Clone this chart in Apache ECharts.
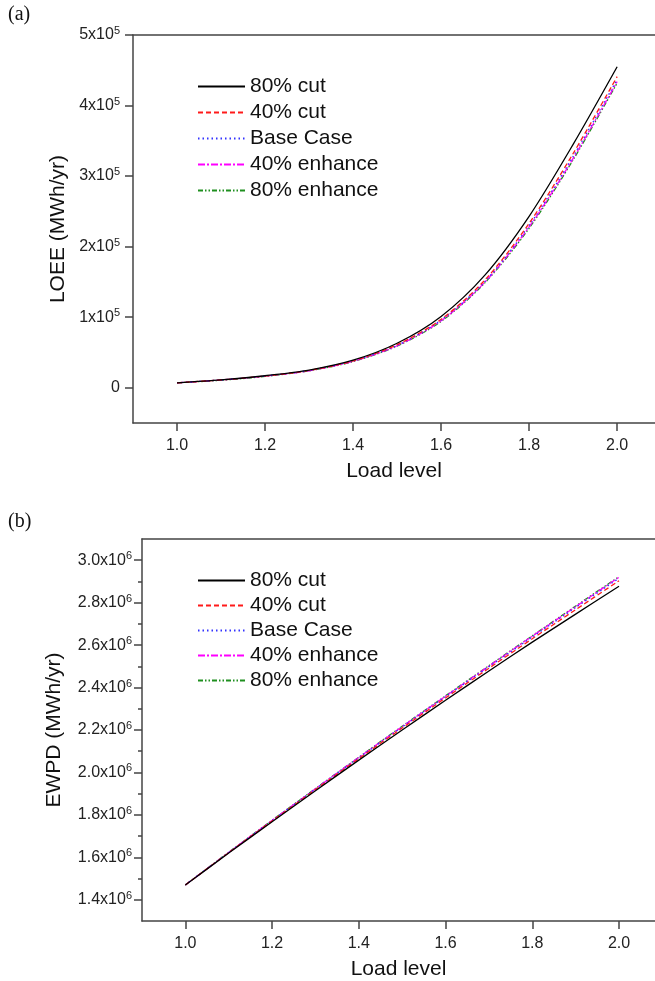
<!DOCTYPE html>
<html>
<head>
<meta charset="utf-8">
<script src="https://cdn.jsdelivr.net/npm/echarts@6/dist/echarts.min.js"></script>
<style>
  html, body { margin: 0; padding: 0; background: #fff; }
  #chart { width: 655px; height: 981px; }
</style>
</head>
<body>
<div id="chart"></div>
<script>
// load level (x)
var loadLevel = [1.0, 1.1, 1.2, 1.3, 1.4, 1.5, 1.6, 1.7, 1.8, 1.9, 2.0];
var seriesNames = ['80% cut', '40% cut', 'Base Case', '40% enhance', '80% enhance'];

// (a) LOEE, MWh/yr
var loeeCut80 = [7000, 11000, 17000, 25000, 39000, 63000, 101000, 160000, 243000, 345000, 455000];
var loeeCut40 = [7000, 11000, 16500, 24500, 38000, 61000, 97000, 153000, 233000, 332000, 441000];
var loeeBase  = [7000, 11000, 16500, 24500, 38000, 60000, 96000, 151000, 230000, 328000, 437000];
var loeeEnh40 = [7000, 11000, 16500, 24000, 37500, 59500, 95000, 150000, 228000, 325000, 434000];
var loeeEnh80 = [7000, 10500, 16000, 24000, 37000, 59000, 94000, 149000, 226000, 323000, 432000];

// (b) EWPD, MWh/yr
var ewpdCut80 = [1470000, 1620000, 1768000, 1914000, 2058000, 2200000, 2340000, 2478000, 2614000, 2746000, 2877000];
var ewpdCut40 = [1470000, 1622000, 1771000, 1919000, 2065000, 2209000, 2351000, 2491000, 2630000, 2767000, 2903000];
var ewpdBase  = [1470000, 1623000, 1773000, 1922000, 2069000, 2214000, 2357000, 2498000, 2638000, 2777000, 2915000];
var ewpdEnh40 = [1470000, 1623000, 1774000, 1923000, 2071000, 2216000, 2359000, 2501000, 2642000, 2781000, 2920000];
var ewpdEnh80 = [1470000, 1624000, 1775000, 1924000, 2072000, 2218000, 2361000, 2503000, 2644000, 2784000, 2923000];

// ticks
var xTicks = [1.0, 1.2, 1.4, 1.6, 1.8, 2.0];
var loeeTicks = [0, 100000, 200000, 300000, 400000, 500000];
var ewpdTicks = [1400000, 1600000, 1800000, 2000000, 2200000, 2400000, 2600000, 2800000, 3000000];
var ewpdMinor = [1500000, 1700000, 1900000, 2100000, 2300000, 2500000, 2700000, 2900000];

var FONT = '"Liberation Sans", Arial, sans-serif';
var AXIS = '#444';
var styles = [
  { color: '#000000', type: 'solid' },
  { color: '#ff1a1a', type: [5, 3] },
  { color: '#3333ff', type: [1.5, 3] },
  { color: '#ff00ff', type: [7, 2, 2, 2] },
  { color: '#1f8f1f', type: [5, 2, 1.5, 2, 1.5, 2] }
];

function pairs(ys) {
  return loadLevel.map(function (x, i) { return [x, ys[i]]; });
}

var supRich = {
  m: { fontSize: 16, color: '#222', fontFamily: FONT, lineHeight: 19 },
  s: { fontSize: 11, color: '#222', fontFamily: FONT, verticalAlign: 'top', lineHeight: 11 }
};

function xAxisMain(grid, max, gap) {
  return {
    type: 'value', gridIndex: grid, min: 0.9, max: max, position: 'bottom',
    name: 'Load level', nameLocation: 'middle', nameGap: gap,
    nameTextStyle: { fontSize: 21, color: '#111', fontFamily: FONT },
    axisLine: { show: true, onZero: false, lineStyle: { color: AXIS, width: 1.5 } },
    axisTick: { show: true, inside: false, length: 8, customValues: xTicks, lineStyle: { color: AXIS, width: 1.5 } },
    axisLabel: { customValues: xTicks, margin: 15, fontSize: 16, color: '#222', fontFamily: FONT,
      formatter: function (v) { return v.toFixed(1); } },
    splitLine: { show: false }
  };
}
function xAxisTop(grid, max) {
  return {
    type: 'value', gridIndex: grid, min: 0.9, max: max, position: 'top',
    axisLine: { show: true, onZero: false, lineStyle: { color: AXIS, width: 1.5 } },
    axisTick: { show: false }, axisLabel: { show: false }, splitLine: { show: false }
  };
}

function lineSeries(ys, i, xi, yi) {
  return {
    name: seriesNames[i], type: 'line', xAxisIndex: xi, yAxisIndex: yi,
    data: pairs(ys), smooth: 0.3, symbol: 'none', z: 10 - i,
    lineStyle: { color: styles[i].color, type: styles[i].type, width: 1.3 },
    itemStyle: { color: styles[i].color }
  };
}

var legendBase = {
  orient: 'vertical', left: 197, padding: 0, itemWidth: 47, itemHeight: 14,
  data: seriesNames, selectedMode: false,
  itemStyle: { opacity: 0 },
  textStyle: { fontSize: 21, color: '#111', fontFamily: FONT }
};

var chart = echarts.init(document.getElementById('chart'), null, { renderer: 'canvas' });
chart.setOption({
  animation: false,
  backgroundColor: '#fff',
  grid: [
    { left: 133, right: 0, top: 35, bottom: 558 },
    { left: 142, right: 0, top: 539, bottom: 55 }
  ],
  graphic: [
    { type: 'text', left: 8, top: 5, style: { text: '(a)', fontSize: 20, fontFamily: '"Liberation Serif", "Times New Roman", serif', fill: '#111' } },
    { type: 'text', left: 8, top: 512, style: { text: '(b)', fontSize: 20, fontFamily: '"Liberation Serif", "Times New Roman", serif', fill: '#111' } }
  ],
  legend: [
    Object.assign({}, legendBase, { top: 76, itemGap: 5 }),
    Object.assign({}, legendBase, { top: 570, itemGap: 4 })
  ],
  xAxis: [
    xAxisMain(0, 2.086, 38),
    xAxisTop(0, 2.086),
    xAxisMain(1, 2.083, 38),
    xAxisTop(1, 2.083)
  ],
  yAxis: [
    {
      type: 'value', gridIndex: 0, min: -50000, max: 500000, position: 'left',
      name: 'LOEE (MWh/yr)', nameLocation: 'middle', nameGap: 64,
      nameTextStyle: { fontSize: 21, color: '#111', fontFamily: FONT },
      axisLine: { show: true, onZero: false, lineStyle: { color: AXIS, width: 1.5 } },
      axisTick: { show: true, length: 8, customValues: loeeTicks, lineStyle: { color: AXIS, width: 1.5 } },
      axisLabel: { customValues: loeeTicks, margin: 13, rich: supRich,
        formatter: function (v) { return v === 0 ? '{m|0}' : '{m|' + Math.round(v / 100000) + 'x10}{s|5}'; } },
      splitLine: { show: false }
    },
    {
      type: 'value', gridIndex: 1, min: 1300000, max: 3100000, position: 'left',
      name: 'EWPD (MWh/yr)', nameLocation: 'middle', nameGap: 77,
      nameTextStyle: { fontSize: 21, color: '#111', fontFamily: FONT },
      axisLine: { show: true, onZero: false, lineStyle: { color: AXIS, width: 1.5 } },
      axisTick: { show: true, length: 8, customValues: ewpdTicks, lineStyle: { color: AXIS, width: 1.5 } },
      axisLabel: { customValues: ewpdTicks, margin: 10, rich: supRich,
        formatter: function (v) { return '{m|' + (v / 1000000).toFixed(1) + 'x10}{s|6}'; } },
      splitLine: { show: false }
    },
    {
      // minor ticks for (b)
      type: 'value', gridIndex: 1, min: 1300000, max: 3100000, position: 'left', offset: 0,
      axisLine: { show: false },
      axisTick: { show: true, length: 4, customValues: ewpdMinor, lineStyle: { color: AXIS, width: 1.5 } },
      axisLabel: { show: false }, splitLine: { show: false }
    }
  ],
  series: [
    lineSeries(loeeCut80, 0, 0, 0),
    lineSeries(loeeCut40, 1, 0, 0),
    lineSeries(loeeBase, 2, 0, 0),
    lineSeries(loeeEnh40, 3, 0, 0),
    lineSeries(loeeEnh80, 4, 0, 0),
    lineSeries(ewpdCut80, 0, 2, 1),
    lineSeries(ewpdCut40, 1, 2, 1),
    lineSeries(ewpdBase, 2, 2, 1),
    lineSeries(ewpdEnh40, 3, 2, 1),
    lineSeries(ewpdEnh80, 4, 2, 1)
  ]
});
</script>
</body>
</html>
